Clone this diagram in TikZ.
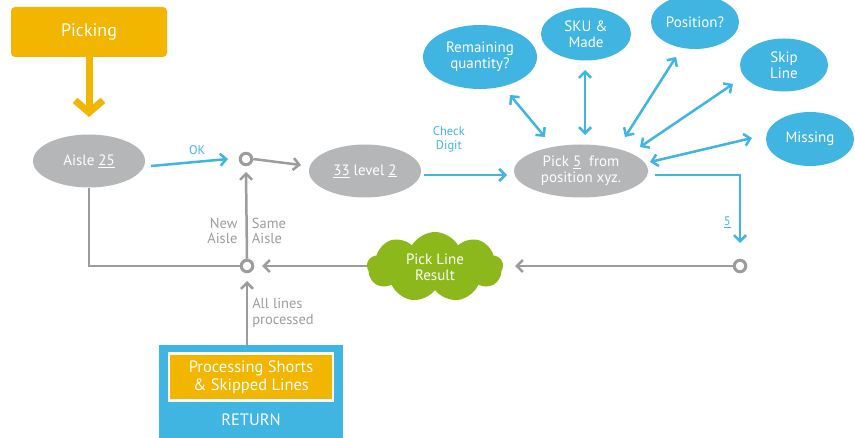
\documentclass[tikz,border=0pt]{standalone}
\usepackage{fontspec}
\setmainfont{PT Sans}
\usepackage{xcolor}
\usepackage{tikz}
\usetikzlibrary{positioning, arrows.meta, shapes.geometric, shapes.symbols}

\definecolor{pickorange}{HTML}{F2B600}
\definecolor{pickblue}{HTML}{41B5E1}
\definecolor{stategray}{HTML}{B5B6B8}
\definecolor{linegray}{HTML}{9C9C9C}
\definecolor{pickgreen}{HTML}{8DB81B}

\begin{document}
\begin{tikzpicture}[x=1pt, y=-1pt, >={Straight Barb[length=6pt, width=12pt]},
    every node/.style={font=\fontsize{15}{16}\selectfont, align=center, inner sep=0pt},
    graystate/.style={ellipse, fill=stategray, text=white, minimum width=112, minimum height=53},
    bluestate/.style={ellipse, fill=pickblue, text=white, minimum width=88, minimum height=53},
    junction/.style={circle, draw=linegray, line width=3pt, fill=white, minimum size=11.5},
    grayarrow/.style={draw=linegray, line width=2.5pt, ->},
    bluearrow/.style={draw=pickblue, line width=2.5pt, ->},
    bluedouble/.style={draw=pickblue, line width=2.5pt, <->},
    graylbl/.style={text=linegray, font=\fontsize{14.5}{15.5}\selectfont},
    bluelbl/.style={text=pickblue, font=\fontsize{12.5}{13.5}\selectfont}]
    \useasboundingbox (0,0) rectangle (855,438);

    % Start of picking
    \node[fill=pickorange, text=white, rounded corners=4pt, minimum width=156, minimum height=50, font=\fontsize{18}{19}\selectfont] (picking) at (89,32) {Picking};
    \node[graystate] (aisle) at (89,161) {Aisle \underline{25}};
    \draw[draw=pickorange, line width=7pt, -{Straight Barb[length=12pt, width=28pt]}] (picking.south) -- ([shift={(0,-44)}]aisle.center);

    % Main row
    \node[junction] (j1) at (246,159) {};
    \node[graystate] (level) at (365,171) {\underline{33} level \underline{2}};
    \node[graystate, minimum width=134] (pick) at (581,171) {Pick \underline{5}~ from\\position xyz.};
    \draw[bluearrow] ([shift={(62,5)}]aisle.center) -- ([shift={(-18,0)}]j1.center) node[pos=0.6, above=6pt, bluelbl] {OK};
    \draw[grayarrow] (j1.east) -- ([shift={(-64,-6)}]level.center);
    \draw[bluearrow] ([shift={(59,4)}]level.center) -- ([shift={(-74,4)}]pick.center) node[pos=0.3, above=22pt, bluelbl] {Check\\Digit};

    % Questions around the pick
    \node[bluestate, minimum width=114, minimum height=64] (remain) at (480,57) {Remaining\\quantity?};
    \node[bluestate, minimum width=90] (sku) at (586,34) {SKU \&\\Made};
    \node[bluestate, minimum height=54] (position) at (695,22) {Position?};
    \node[bluestate] (skip) at (784,65) {Skip\\Line};
    \node[bluestate, minimum height=54] (missing) at (810,139) {Missing};
    \draw[bluedouble] ([shift={(30,38)}]remain.center) -- ([shift={(-36,-34)}]pick.center);
    \draw[bluedouble] ([shift={(-1,36)}]sku.center) -- ([shift={(4,-36)}]pick.center);
    \draw[bluedouble] ([shift={(-19,35)}]position.center) -- ([shift={(44,-34)}]pick.center);
    \draw[bluedouble] ([shift={(-51,19)}]skip.center) -- ([shift={(59,-24)}]pick.center);
    \draw[bluedouble] ([shift={(-58,-1)}]missing.center) -- ([shift={(69,-9)}]pick.center);

    % Result row
    \node[junction] (j3) at (740,266) {};
    \node[cloud, cloud puffs=9, cloud puff arc=120, aspect=2, fill=pickgreen, text=white, minimum width=136, minimum height=70] (result) at (435,267) {Pick Line\\Result};
    \node[junction] (j2) at (247,266) {};
    \draw[bluearrow] ([shift={(74,4)}]pick.center) -| ([shift={(0,-23)}]j3.center) node[pos=0.85, left=8pt, bluelbl] {\underline{5}};
    \draw[grayarrow] (j3.west) -- ([shift={(80,-1)}]result.center);
    \draw[grayarrow] (result.west |- j2) -- ([shift={(15,0)}]j2.center);
    \draw[draw=linegray, line width=2.5pt] (j2.west) -| (aisle.south);
    \draw[grayarrow] (j2.north) -- ([shift={(0,13)}]j1.center) node[pos=0.32, left=8pt, graylbl, align=right] {New\\Aisle} node[pos=0.32, right=4pt, graylbl, align=left] {Same\\Aisle};

    % Return box
    \node[fill=pickblue, minimum width=184, minimum height=96, anchor=north west] (ret) at (159,345) {};
    \node[fill=pickorange, draw=white, line width=2.5pt, text=white, minimum width=164, minimum height=47, font=\fontsize{16.5}{18}\selectfont] (shorts) at (251,377) {Processing Shorts\\\& Skipped Lines};
    \node[text=white, font=\fontsize{16.5}{17}\selectfont] (retlbl) at (251,420) {RETURN};
    \draw[grayarrow] (ret.north -| j2) -- ([shift={(0,15)}]j2.center) node[pos=0.5, right=4pt, graylbl, align=left] {All lines\\processed};
\end{tikzpicture}
\end{document}
